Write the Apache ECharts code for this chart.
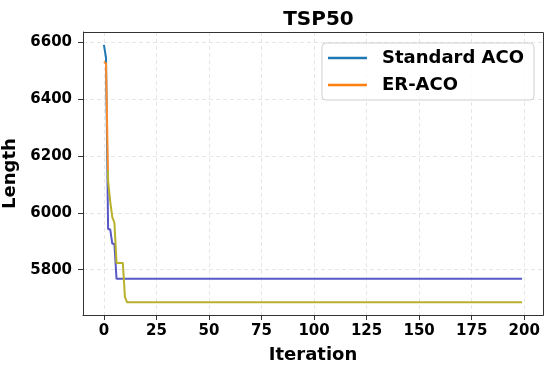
<!DOCTYPE html>
<html><head><meta charset="utf-8">
<script src="https://cdn.jsdelivr.net/npm/echarts@6/dist/echarts.min.js"></script>
<style>html,body{margin:0;padding:0;background:#fff}#c{width:550px;height:368px}</style>
</head><body><div id="c"></div>
<script>
const title = 'TSP50';
const seriesNames = ['Standard ACO', 'ER-ACO'];
const xTicks = [0, 25, 50, 75, 100, 125, 150, 175, 200];
const yTicks = [5800, 6000, 6200, 6400, 6600];
const standardACO = [6590, 6545, 5942, 5942, 5891, 5891,
5768,5768,5768,5768,5768,5768,5768,5768,5768,5768,5768,5768,5768,5768,5768,5768,5768,5768,5768,5768,
5768,5768,5768,5768,5768,5768,5768,5768,5768,5768,5768,5768,5768,5768,5768,5768,5768,5768,5768,5768,
5768,5768,5768,5768,5768,5768,5768,5768,5768,5768,5768,5768,5768,5768,5768,5768,5768,5768,5768,5768,
5768,5768,5768,5768,5768,5768,5768,5768,5768,5768,5768,5768,5768,5768,5768,5768,5768,5768,5768,5768,
5768,5768,5768,5768,5768,5768,5768,5768,5768,5768,5768,5768,5768,5768,5768,5768,5768,5768,5768,5768,
5768,5768,5768,5768,5768,5768,5768,5768,5768,5768,5768,5768,5768,5768,5768,5768,5768,5768,5768,5768,
5768,5768,5768,5768,5768,5768,5768,5768,5768,5768,5768,5768,5768,5768,5768,5768,5768,5768,5768,5768,
5768,5768,5768,5768,5768,5768,5768,5768,5768,5768,5768,5768,5768,5768,5768,5768,5768,5768,5768,5768,
5768,5768,5768,5768,5768,5768,5768,5768,5768,5768,5768,5768,5768,5768,5768,5768,5768,5768,5768,5768,
5768,5768,5768,5768,5768,5768,5768,5768,5768,5768,5768,5768,5768,5768];
const erACO = [6530, 6525, 6110, 6040, 5985, 5965, 5824, 5824, 5824, 5824, 5705,
5686,5686,5686,5686,5686,5686,5686,5686,5686,5686,5686,5686,5686,5686,5686,5686,5686,5686,5686,5686,
5686,5686,5686,5686,5686,5686,5686,5686,5686,5686,5686,5686,5686,5686,5686,5686,5686,5686,5686,5686,
5686,5686,5686,5686,5686,5686,5686,5686,5686,5686,5686,5686,5686,5686,5686,5686,5686,5686,5686,5686,
5686,5686,5686,5686,5686,5686,5686,5686,5686,5686,5686,5686,5686,5686,5686,5686,5686,5686,5686,5686,
5686,5686,5686,5686,5686,5686,5686,5686,5686,5686,5686,5686,5686,5686,5686,5686,5686,5686,5686,5686,
5686,5686,5686,5686,5686,5686,5686,5686,5686,5686,5686,5686,5686,5686,5686,5686,5686,5686,5686,5686,
5686,5686,5686,5686,5686,5686,5686,5686,5686,5686,5686,5686,5686,5686,5686,5686,5686,5686,5686,5686,
5686,5686,5686,5686,5686,5686,5686,5686,5686,5686,5686,5686,5686,5686,5686,5686,5686,5686,5686,5686,
5686,5686,5686,5686,5686,5686,5686,5686,5686,5686,5686,5686,5686,5686,5686,5686,5686,5686,5686,5686,
5686,5686,5686,5686,5686,5686,5686,5686,5686];

const F = 'DejaVu Sans';
const pairs = arr => arr.map((v, i) => [i, v]);
const chart = echarts.init(document.getElementById('c'));
const gridLine = {show: true, lineStyle: {color: '#e0e0e0', type: [4, 3], width: 0.8}};
chart.setOption({
  animation: false,
  backgroundColor: '#fff',
  title: {text: title, left: 313.5, top: 5, textAlign: 'center',
    textStyle: {fontFamily: F, fontWeight: 'bold', fontSize: 20, color: '#000'}},
  grid: {left: 83, right: 7, top: 32, bottom: 53, containLabel: false, outerBoundsMode: 'none'},
  legend: {
    data: [
      {name: seriesNames[0], itemStyle: {color: '#1f77b4'}},
      {name: seriesNames[1], itemStyle: {color: '#ff7f0e'}}
    ],
    orient: 'vertical', right: 16, top: 43,
    icon: 'rect', itemWidth: 39, itemHeight: 2.5, itemGap: 9,
    padding: [6, 10, 6, 6],
    borderColor: '#d0d0d0', borderWidth: 1, borderRadius: 4,
    backgroundColor: 'rgba(255,255,255,0.8)',
    textStyle: {fontFamily: F, fontWeight: 'bold', fontSize: 18, color: '#000', padding: [0, 0, 0, 10]}
  },
  visualMap: [
    {show: false, type: 'piecewise', seriesIndex: 0, dimension: 1,
     pieces: [{min: 6150, max: 7000, color: '#1f77b4'}, {min: 5000, max: 6150, color: '#5858c6'}]},
    {show: false, type: 'piecewise', seriesIndex: 1, dimension: 1,
     pieces: [{min: 6150, max: 7000, color: '#ff8a2a'}, {min: 5000, max: 6150, color: '#b7b12c'}]}
  ],
  xAxis: {
    type: 'value', min: -9.95, max: 208.95,
    name: 'Iteration', nameLocation: 'middle', nameGap: 31,
    nameTextStyle: {fontFamily: F, fontWeight: 'bold', fontSize: 18, color: '#000'},
    axisLine: {show: true, onZero: false, lineStyle: {color: '#333', width: 1}},
    axisTick: {show: true, length: 5, customValues: xTicks, lineStyle: {color: '#333'}},
    axisLabel: {customValues: xTicks, formatter: v => String(v), fontFamily: F, fontWeight: 'bold', fontSize: 15, color: '#000', margin: 9},
    splitLine: gridLine
  },
  yAxis: {
    type: 'value', min: 5641, max: 6635,
    name: 'Length', nameLocation: 'middle', nameGap: 56,
    nameTextStyle: {fontFamily: F, fontWeight: 'bold', fontSize: 18, color: '#000'},
    axisLine: {show: true, onZero: false, lineStyle: {color: '#333', width: 1}},
    axisTick: {show: true, length: 5, customValues: yTicks, lineStyle: {color: '#333'}},
    axisLabel: {customValues: yTicks, formatter: v => String(v), fontFamily: F, fontWeight: 'bold', fontSize: 15, color: '#000', margin: 11},
    splitLine: gridLine
  },
  series: [
    {name: seriesNames[0], type: 'line', data: pairs(standardACO), symbol: 'none',
     lineStyle: {width: 2}, z: 3},
    {name: seriesNames[1], type: 'line', data: pairs(erACO), symbol: 'none',
     lineStyle: {width: 2}, z: 4}
  ],
  graphic: [{type: 'rect', shape: {x: 83.5, y: 32.5, width: 460, height: 283},
    style: {fill: 'none', stroke: '#333', lineWidth: 1}, silent: true, z: 10}]
});
</script></body></html>
